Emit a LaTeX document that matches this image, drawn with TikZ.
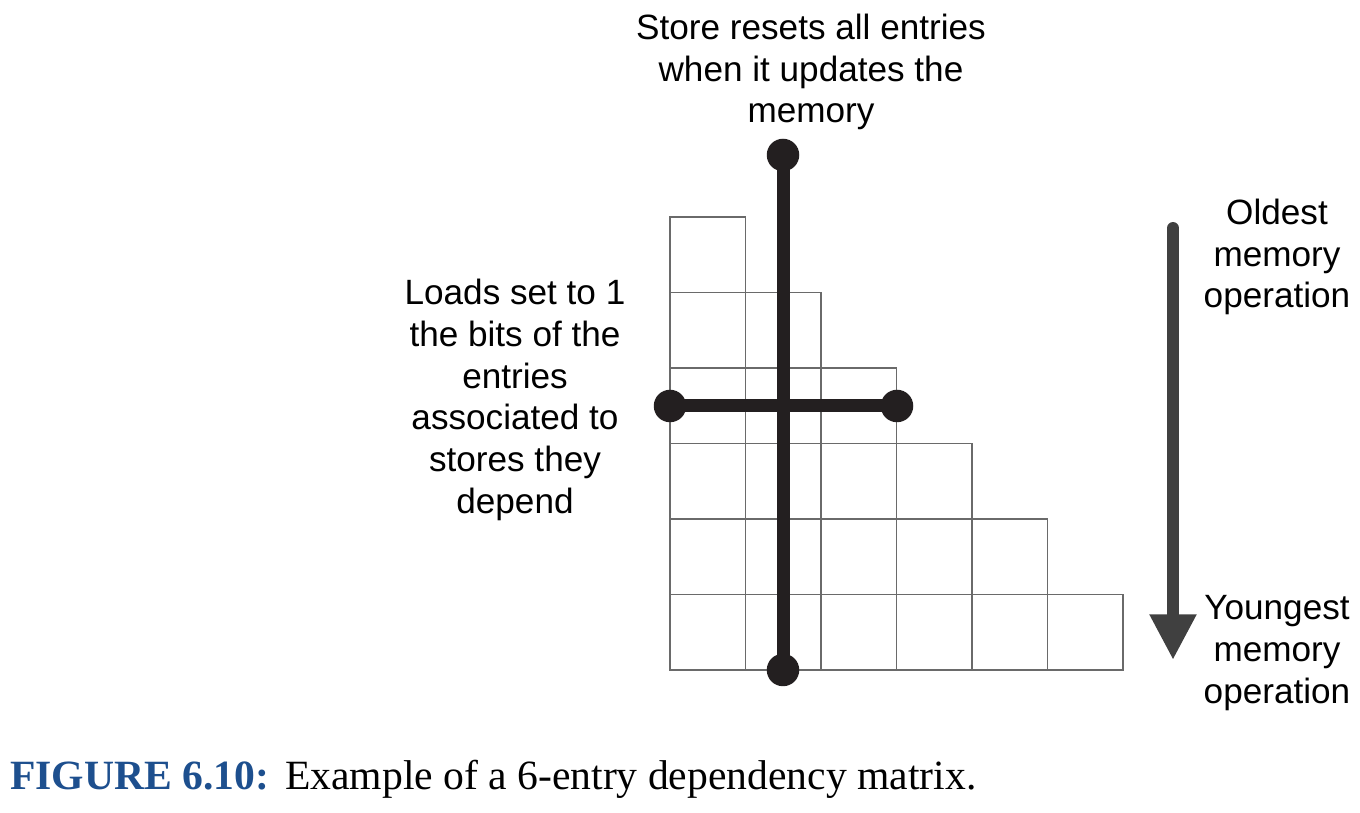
\documentclass[tikz,border=0pt]{standalone}
\usepackage{fontspec}
\setmainfont{Liberation Serif}
\setsansfont{Liberation Sans}
\usepackage{tikz}
\usetikzlibrary{arrows.meta,positioning}
\definecolor{BarBlack}{HTML}{231F20}
\definecolor{GridGray}{HTML}{6A6A6A}
\definecolor{ArrowGray}{HTML}{404040}
\definecolor{CaptionBlue}{HTML}{1D4F8E}

\begin{document}
\begin{tikzpicture}[x=0.02cm,y=-0.02cm,
  cell/.style={draw=GridGray,line width=1.1pt},
  bar/.style={BarBlack,line width=7.4pt},
  dot/.style={circle,fill=BarBlack,inner sep=0pt,minimum size=18.5pt},
  note/.style={align=center,font=\sffamily\fontsize{20}{23.8}\selectfont}]
\useasboundingbox (0,0) rectangle (1360,813);
% triangular matrix
\foreach \i in {1,...,6}
  \foreach \j in {1,...,\i}
    \draw[cell] ({670+75.5*(\j-1)},{217+75.5*(\i-1)}) rectangle ++(75.5,75.5);
% store and load bars
\node[dot] (storetop) at (783,155) {};
\node[dot] (storebot) at (783,670) {};
\node[dot] (loadleft) at (670,406) {};
\node[dot] (loadright) at (897,406) {};
\draw[bar] (storetop.center) -- (storebot.center);
\draw[bar] (loadleft.center) -- (loadright.center);
% age arrow
\coordinate (oldest) at (1173,228);
\coordinate (youngest) at (1173,660);
\draw[ArrowGray,line width=6.8pt,line cap=round,-{Triangle[length=26pt,width=25pt]}] (oldest) -- (youngest);
% labels
\node[note] (storetxt) at (811,72) {Store resets all entries\\when it updates the\\memory};
\node[note] (loadtxt) at (515,400) {Loads set to 1\\the bits of the\\entries\\associated to\\stores they\\depend};
\node[note] (oldtxt) at (1277,257) {Oldest\\memory\\operation};
\node[note] (youngtxt) at (1277,653) {Youngest\\memory\\operation};
\node[anchor=base west,inner sep=0pt,font=\fontsize{23.7}{28}\selectfont] (caption) at (10,790)
  {{\color{CaptionBlue}\bfseries FIGURE 6.10:}\hspace{1pt} Example of a 6-entry dependency matrix.};
\end{tikzpicture}
\end{document}
